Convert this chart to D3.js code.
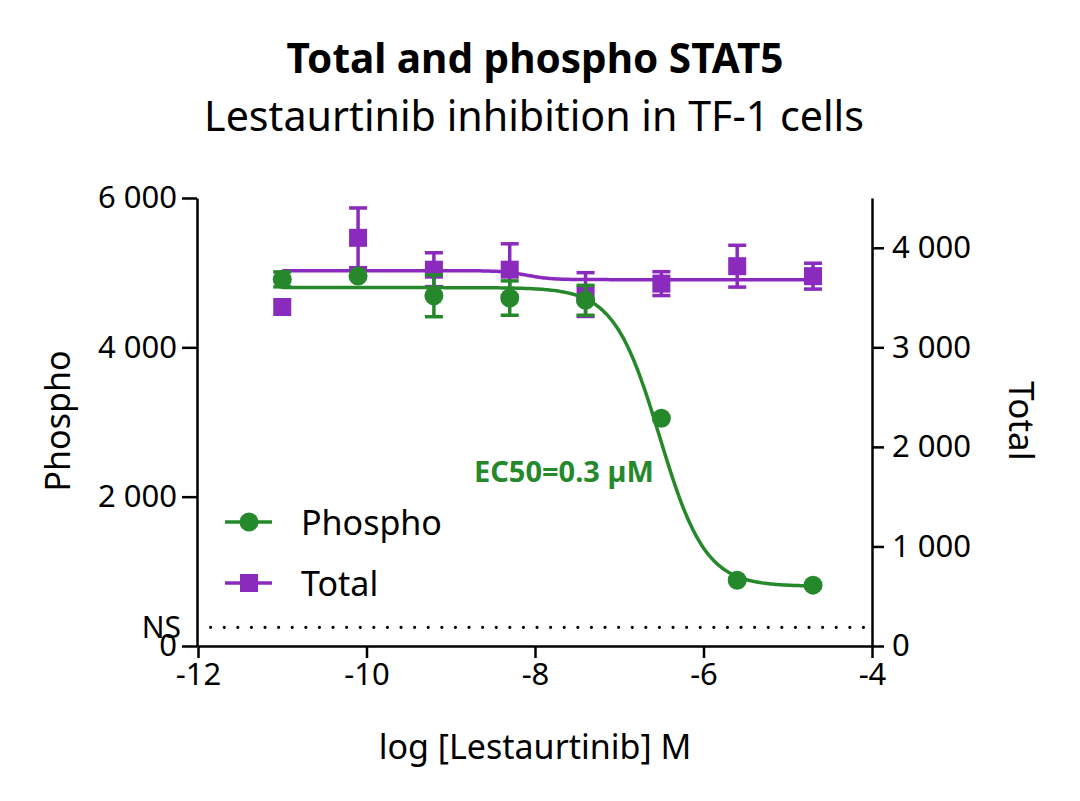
<!DOCTYPE html>
<html><head><meta charset="utf-8">
<script src="https://cdn.jsdelivr.net/npm/d3@7"></script>
<style>body{margin:0;background:#fff;} text{font-family:"Noto Sans", Lato, sans-serif;}</style>
</head><body>
<svg id="c" width="1080" height="801"></svg>
<script>
// ---- data ----
const logConc = [-11, -10.1, -9.2, -8.3, -7.4, -6.5, -5.6, -4.7];
const phospho = [4910, 4955, 4690, 4660, 4630, 3050, 880, 815];
const phosphoErr = [100, 0, 280, 230, 200, 0, 0, 0];
const total = [3405, 4100, 3780, 3780, 3530, 3640, 3815, 3715];
const totalErr = [0, 300, 170, 260, 220, 120, 210, 130];
// fitted curve parameters [top, bottom, logEC50, hill]
const phosphoFit = [4800, 800, -6.52, 1.6];
const totalFit = [3770, 3680, -8.1, 3];
const xTicks = [-12, -10, -8, -6, -4];
const leftTicks = [0, 2000, 4000, 6000];
const rightTicks = [0, 1000, 2000, 3000, 4000];
const nsLevel = 250;
const GREEN = "#25892c", PURPLE = "#8a2bbd";
const FONT = "'Noto Sans', Lato, sans-serif";

const svg = d3.select("#c");
const x = d3.scaleLinear().domain([-12, -4]).range([198, 872]);
const yL = d3.scaleLinear().domain([0, 6000]).range([646, 198]);
const yR = d3.scaleLinear().domain([0, 4500]).range([646, 198]);
const loc = d3.formatLocale({decimal: ".", thousands: " ", grouping: [3], currency: ["", ""], minus: "-"});
const fmt = loc.format(",d");
const fmtX = loc.format("d");

// titles
svg.append("text").attr("x", 535).attr("y", 73).attr("text-anchor", "middle")
  .attr("font-size", 40.5).attr("font-weight", "bold").text("Total and phospho STAT5");
svg.append("text").attr("x", 534).attr("y", 131).attr("text-anchor", "middle")
  .attr("font-size", 41.2).text("Lestaurtinib inhibition in TF-1 cells");

// axes
function styleAxis(g){
  g.selectAll("path,line").attr("stroke", "#000").attr("stroke-width", 2.5);
  g.selectAll("text").attr("font-size", 31).attr("fill", "#000").style("font-family", FONT);
}
const gx = svg.append("g").attr("transform", "translate(0,646)")
  .call(d3.axisBottom(x).tickValues(xTicks).tickSize(12).tickSizeOuter(0).tickFormat(fmtX).tickPadding(5));
styleAxis(gx);
const gl = svg.append("g").attr("transform", "translate(197,0)")
  .call(d3.axisLeft(yL).tickValues(leftTicks).tickSize(15).tickSizeOuter(0).tickFormat(fmt).tickPadding(5));
styleAxis(gl);
const gr = svg.append("g").attr("transform", "translate(872,0)")
  .call(d3.axisRight(yR).tickValues(rightTicks).tickSize(12).tickSizeOuter(0).tickFormat(fmt).tickPadding(8));
styleAxis(gr);

// axis titles
svg.append("text").attr("transform", "translate(70,421) rotate(-90)").attr("text-anchor", "middle")
  .attr("font-size", 34).text("Phospho");
svg.append("text").attr("transform", "translate(1009,421) rotate(90)").attr("text-anchor", "middle")
  .attr("font-size", 35).text("Total");
svg.append("text").attr("x", 535).attr("y", 759).attr("text-anchor", "middle")
  .attr("font-size", 34).text("log [Lestaurtinib] M");

// NS line
svg.append("line").attr("x1", x(-11.85)).attr("x2", x(-4.05)).attr("y1", yL(nsLevel)).attr("y2", yL(nsLevel))
  .attr("stroke", "#000").attr("stroke-width", 3.2).attr("stroke-linecap", "round").attr("stroke-dasharray", "0,13.6");
svg.append("text").attr("x", 181).attr("y", 638).attr("text-anchor", "end")
  .attr("font-size", 30).text("NS");

// curves
function sig(p, v){ return p[1] + (p[0]-p[1]) / (1 + Math.pow(10, (v - p[2]) * p[3])); }
const xs = d3.range(0, 301).map(i => -11 + i * (6.3 / 300));
const line = (scale, p) => d3.line().x(d => x(d)).y(d => scale(sig(p, d)))(xs);

function errBars(vals, errs, scale, color){
  const g = svg.append("g").attr("stroke", color).attr("stroke-width", 3.5);
  logConc.forEach((c, i) => {
    if (!errs[i]) return;
    const cx = x(c), y0 = scale(vals[i] - errs[i]), y1 = scale(vals[i] + errs[i]);
    g.append("line").attr("x1", cx).attr("x2", cx).attr("y1", y0).attr("y2", y1);
    g.append("line").attr("x1", cx - 9).attr("x2", cx + 9).attr("y1", y0).attr("y2", y0);
    g.append("line").attr("x1", cx - 9).attr("x2", cx + 9).attr("y1", y1).attr("y2", y1);
  });
}

// Total series
svg.append("path").attr("d", line(yR, totalFit)).attr("fill", "none").attr("stroke", PURPLE).attr("stroke-width", 3.5);
errBars(total, totalErr, yR, PURPLE);
svg.append("g").selectAll("rect").data(logConc).join("rect")
  .attr("x", d => x(d) - 9).attr("y", (d, i) => yR(total[i]) - 9).attr("width", 18).attr("height", 18).attr("fill", PURPLE);

// Phospho series
svg.append("path").attr("d", line(yL, phosphoFit)).attr("fill", "none").attr("stroke", GREEN).attr("stroke-width", 3.5);
errBars(phospho, phosphoErr, yL, GREEN);
svg.append("g").selectAll("circle").data(logConc).join("circle")
  .attr("cx", d => x(d)).attr("cy", (d, i) => yL(phospho[i])).attr("r", 9.5).attr("fill", GREEN);

// EC50 label
svg.append("text").attr("x", 474).attr("y", 482).attr("font-size", 29).attr("font-weight", "bold")
  .attr("fill", GREEN).text("EC50=0.3 µM");

// legend
const leg = [{name: "Phospho", color: GREEN, shape: "circle", y: 522}, {name: "Total", color: PURPLE, shape: "rect", y: 583}];
leg.forEach(l => {
  svg.append("line").attr("x1", 225).attr("x2", 272).attr("y1", l.y).attr("y2", l.y).attr("stroke", l.color).attr("stroke-width", 3.5);
  if (l.shape === "circle") svg.append("circle").attr("cx", 249).attr("cy", l.y).attr("r", 9.5).attr("fill", l.color);
  else svg.append("rect").attr("x", 240).attr("y", l.y - 9).attr("width", 18).attr("height", 18).attr("fill", l.color);
  svg.append("text").attr("x", 301).attr("y", l.y + 13).attr("font-size", 34).text(l.name);
});
</script>
</body></html>
